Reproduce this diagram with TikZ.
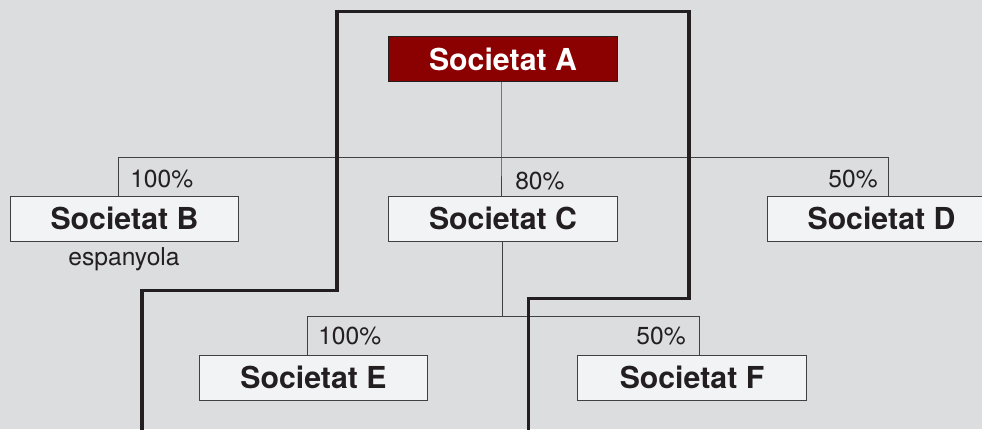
\documentclass[tikz,border=0pt]{standalone}
\usepackage{fontspec}
\setmainfont{TeX Gyre Heros}
\definecolor{fons}{HTML}{DCDDDF}
\definecolor{caixa}{HTML}{F2F3F5}
\definecolor{vora}{HTML}{404042}
\definecolor{tinta}{HTML}{231F20}
\definecolor{granat}{HTML}{8B0000}

\begin{document}
\begin{tikzpicture}[x=0.025cm,y=-0.025cm,
    soc/.style={draw=vora,fill=caixa,line width=0.7pt,minimum width=5.7cm,
      minimum height=1.125cm,inner sep=0pt,text=tinta,
      font=\fontsize{21.5}{24}\selectfont\bfseries},
    socmare/.style={soc,fill=granat,draw=tinta,text=white},
    pct/.style={inner sep=0pt,text=tinta,font=\fontsize{17.5}{20}\selectfont},
    lin/.style={draw=vora,line width=0.7pt},
    marc/.style={draw=tinta,line width=2.2pt,line join=miter}]
  \fill[fons] (0,0) rectangle (982,429);
  \clip (0,0) rectangle (982,429);

  \node[socmare] (sa) at (503,59) {Societat A};

  \node[soc] (sb) at (124.5,218.5) {Societat B};
  \node[soc] (sc) at (503,218.5) {Societat C};
  \node[soc] (sd) at (881.5,218.5) {Societat D};

  \node[soc] (se) at (313.5,377.5) {Societat E};
  \node[soc] (sf) at (692,377.5) {Societat F};

  \coordinate (b1l) at (118,157);
  \coordinate (b1m) at (501,157);
  \coordinate (b1r) at (888,157);
  \path[lin] (b1l) -- (b1r);
  \path[lin] (sa.south -| b1m) -- (b1m) -- (sc.north -| b1m);
  \path[lin] (b1l) -- (b1l |- sb.north);
  \path[lin] (b1r) -- (b1r |- sd.north);

  \coordinate (b2l) at (307,316);
  \coordinate (b2m) at (502,316);
  \coordinate (b2r) at (699,316);
  \path[lin] (b2l) -- (b2r);
  \path[lin] (sc.south -| b2m) -- (b2m);
  \path[lin] (b2l) -- (b2l |- se.north);
  \path[lin] (b2r) -- (b2r |- sf.north);

  \node[pct,anchor=west] (pb) at (130,179) {100\%};
  \node[pct,anchor=west] (pc) at (515,181) {80\%};
  \node[pct,anchor=east] (pd) at (878,179) {50\%};
  \node[pct,anchor=west] (pe) at (318,336) {100\%};
  \node[pct,anchor=east] (pf) at (686,336) {50\%};
  \node[pct] (esp) at (124,259) {espanyola};

  \path[marc] (142,432) -- (142,290.5) -- (337,290.5) -- (337,11.5)
    -- (689,11.5) -- (689,298.5) -- (528.5,298.5) -- (528.5,432);
\end{tikzpicture}
\end{document}
